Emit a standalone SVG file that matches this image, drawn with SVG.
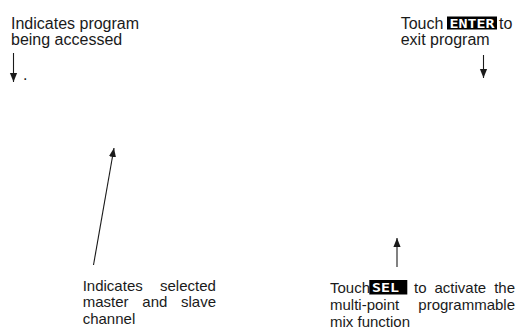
<svg xmlns="http://www.w3.org/2000/svg" width="516" height="329" viewBox="0 0 516 329">
<style>
.t{font-family:"Liberation Sans",Arial,sans-serif;font-size:16px;fill:#1a1a1a}
.b{font-family:"Liberation Sans",Arial,sans-serif;font-size:15px;fill:#1a1a1a}
.k{font-family:"DejaVu Sans Mono",monospace;font-weight:bold;font-size:13px;fill:#fff}
.c{stroke:#1a1a1a;stroke-width:1.1;fill:none}
</style>
<defs>
<marker id="ah" viewBox="0 0 10 10" refX="10" refY="5" markerWidth="9" markerHeight="9" markerUnits="userSpaceOnUse" orient="auto">
<path d="M0,1 L10,5 L0,9 Z" fill="#1a1a1a"/>
</marker>
</defs>
<rect width="516" height="329" fill="#fff"/>
<g id="connectors">
<line class="c" x1="13.5" y1="53" x2="13.5" y2="82" marker-end="url(#ah)"/>
<line class="c" x1="483.5" y1="55" x2="483.5" y2="78" marker-end="url(#ah)"/>
<line class="c" x1="93.5" y1="265" x2="114" y2="148" marker-end="url(#ah)"/>
<line class="c" x1="397" y1="267" x2="397" y2="238" marker-end="url(#ah)"/>
</g>
<g id="note-program-accessed">
<text class="t" x="11" y="29">Indicates program</text>
<text class="t" x="11" y="45">being accessed</text>
<text class="t" x="23" y="80">.</text>
</g>
<g id="note-exit">
<text class="t" x="400.7" y="29">Touch</text>
<rect x="447" y="16.5" width="50" height="13" fill="#000"/>
<text class="k" x="449.5" y="27.5" textLength="45" lengthAdjust="spacingAndGlyphs">ENTER</text>
<text class="t" x="499" y="29">to</text>
<text class="t" x="400.7" y="44.5">exit program</text>
</g>
<g id="note-master-slave">
<text class="b" x="82.7" y="290.7">Indicates<tspan x="160">selected</tspan></text>
<text class="b" x="82.7" y="307">master<tspan x="142.3">and</tspan><tspan x="181">slave</tspan></text>
<text class="b" x="82.7" y="324">channel</text>
</g>
<g id="note-sel">
<text class="b" x="330" y="293.3">Touch</text>
<rect x="369.3" y="280" width="38" height="14.5" fill="#000"/>
<text class="k" x="372" y="292" textLength="27" lengthAdjust="spacingAndGlyphs">SEL</text>
<text class="b" x="414" y="293.3">to<tspan x="434.5">activate</tspan><tspan x="494.2">the</tspan></text>
<text class="b" x="330" y="310">multi-point<tspan x="418.3">programmable</tspan></text>
<text class="b" x="330" y="326.5">mix function</text>
</g>
</svg>
